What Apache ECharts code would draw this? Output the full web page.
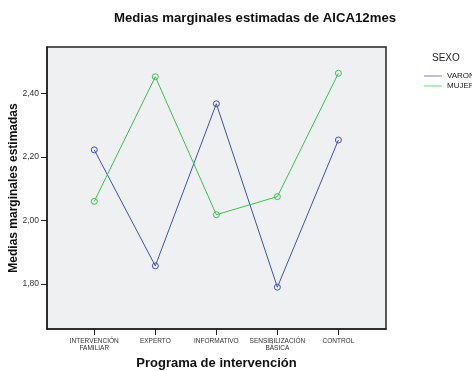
<!DOCTYPE html>
<html>
<head>
<meta charset="utf-8">
<script src="https://cdn.jsdelivr.net/npm/echarts@6/dist/echarts.min.js"></script>
<style>
  html, body { margin: 0; padding: 0; background: #fff; }
  #chart { width: 472px; height: 371px; }
</style>
</head>
<body>
<div id="chart"></div>
<script>
// Programmes (x axis) and estimated marginal means per sex
const programas = ['INTERVENCIÓN\nFAMILIAR', 'EXPERTO', 'INFORMATIVO', 'SENSIBILIZACIÓN\nBÁSICA', 'CONTROL'];
const varon = [2.222, 1.857, 2.367, 1.790, 2.253];
const mujer = [2.060, 2.452, 2.018, 2.075, 2.463];
const yTicks = [1.8, 2.0, 2.2, 2.4];

const FONT = '"Liberation Sans", Arial, sans-serif';
const BLUE = '#3f51b1';
const GREEN = '#3cc04f';

const toPoints = arr => arr.map((v, i) => [i, v]);
const idx = programas.map((_, i) => i);

const chart = echarts.init(document.getElementById('chart'));
chart.setOption({
  animation: false,
  backgroundColor: '#ffffff',
  title: {
    text: 'Medias marginales estimadas de AICA12mes',
    left: 250, top: 7, textAlign: 'center',
    textStyle: { fontFamily: FONT, fontSize: 13.2, fontWeight: 'bold', color: '#111' }
  },
  legend: {
    orient: 'vertical',
    left: 419, top: 67,
    itemWidth: 18, itemHeight: 1.2, itemGap: 2,
    icon: 'rect',
    itemStyle: { borderWidth: 0 },
    textStyle: { fontFamily: FONT, fontSize: 8, color: '#222' },
    data: [
      { name: 'VARON', itemStyle: { color: '#8494d2', borderWidth: 0 } },
      { name: 'MUJER', itemStyle: { color: '#86d890', borderWidth: 0 } }
    ]
  },
  graphic: [{
    type: 'text', left: 432, top: 53,
    style: { text: 'SEXO', fontFamily: FONT, fontSize: 10, fill: '#222' }
  }],
  grid: { left: 47, top: 47, width: 339, height: 282, containLabel: false, outerBoundsMode: 'none' },
  xAxis: {
    type: 'value',
    min: -0.775, max: 4.78,
    name: 'Programa de intervención',
    nameLocation: 'middle', nameGap: 27,
    nameTextStyle: { fontFamily: FONT, fontSize: 13, fontWeight: 'bold', color: '#111' },
    axisLine: { show: true, onZero: false, lineStyle: { color: '#222', width: 1.5 } },
    axisTick: { show: true, customValues: idx, length: 6, lineStyle: { color: '#222' } },
    axisLabel: {
      customValues: idx,
      formatter: v => programas[Math.round(v)] || '',
      fontFamily: FONT, fontSize: 6.5, color: '#333', lineHeight: 7.5, margin: 8
    },
    splitLine: { show: false }
  },
  yAxis: {
    type: 'value',
    min: 1.6585, max: 2.5456,
    name: 'Medias marginales estimadas',
    nameLocation: 'middle', nameGap: 27, nameMoveOverlap: false,
    nameTextStyle: { fontFamily: FONT, fontSize: 12, fontWeight: 'bold', color: '#111' },
    axisLine: { show: true, onZero: false, lineStyle: { color: '#222', width: 1.5 } },
    axisTick: { show: true, customValues: yTicks, length: 6, lineStyle: { color: '#222' } },
    axisLabel: {
      customValues: yTicks,
      formatter: v => v.toFixed(2).replace('.', ','),
      fontFamily: FONT, fontSize: 8.5, color: '#333', margin: 8
    },
    splitLine: { show: false },
    splitArea: { show: false }
  },
  series: [
    {
      name: 'VARON', type: 'line', data: toPoints(varon),
      symbol: 'circle', symbolSize: 6,
      lineStyle: { color: BLUE, width: 1 },
      itemStyle: { color: 'rgba(0,0,0,0)', borderColor: BLUE, borderWidth: 1 }
    },
    {
      name: 'MUJER', type: 'line', data: toPoints(mujer),
      symbol: 'circle', symbolSize: 6,
      lineStyle: { color: GREEN, width: 1 },
      itemStyle: { color: 'rgba(0,0,0,0)', borderColor: GREEN, borderWidth: 1 }
    },
    {
      // plot background panel
      type: 'custom', silent: true, z: -1,
      data: [0],
      renderItem: (params, api) => ({
        type: 'rect',
        shape: { x: params.coordSys.x, y: params.coordSys.y, width: params.coordSys.width, height: params.coordSys.height },
        style: { fill: '#eff0f2', stroke: '#222', lineWidth: 1.5 }
      })
    }
  ]
});
</script>
</body>
</html>
